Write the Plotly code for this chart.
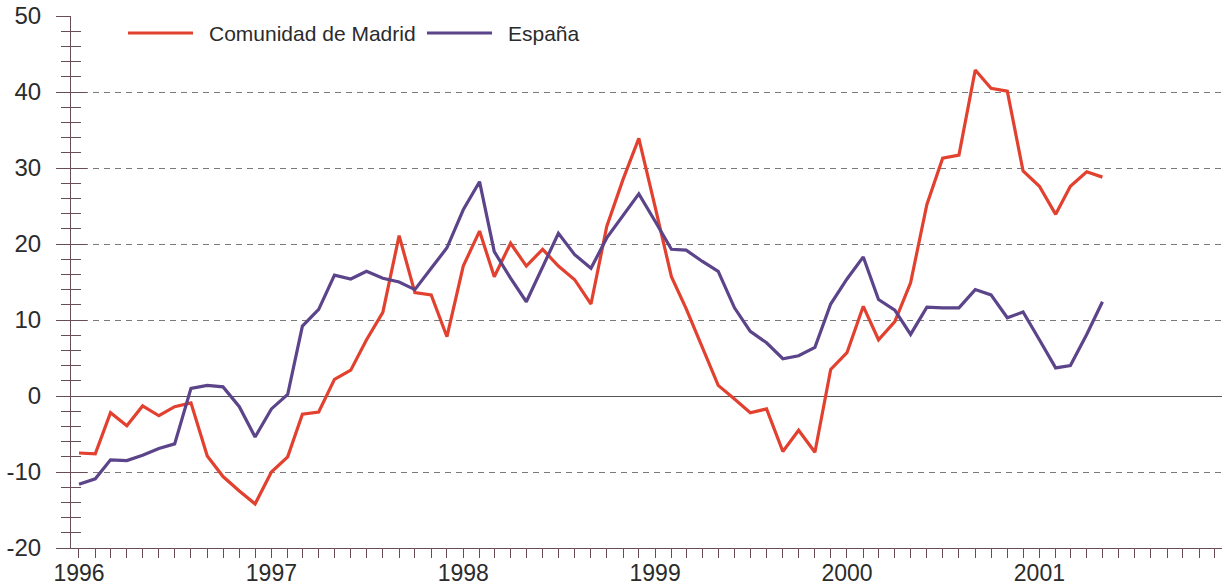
import pandas as pd
import plotly.graph_objects as go

# monthly series, Jan 1996 - May 2001 (tasa de variación interanual, %)
fechas = pd.date_range("1996-01-01", "2001-05-01", freq="MS")

madrid = [-7.5, -7.6, -2.2, -3.9, -1.3, -2.6, -1.4, -0.9, -7.9, -10.6, -12.5, -14.2,
          -10.0, -8.0, -2.4, -2.1, 2.2, 3.4, 7.4, 11.0, 21.1, 13.6, 13.3, 7.8,
          17.1, 21.7, 15.7, 20.1, 17.1, 19.3, 17.1, 15.3, 12.1, 22.3, 28.5, 33.9,
          24.9, 15.7, 11.5, 6.4, 1.4, -0.4, -2.2, -1.7, -7.3, -4.5, -7.4,
          3.5, 5.7, 11.8, 7.4, 9.8, 14.9, 25.2, 31.3, 31.7, 42.9, 40.5, 40.1,
          29.6, 27.6, 23.9, 27.6, 29.5, 28.8]

espana = [-11.6, -10.9, -8.4, -8.5, -7.8, -6.9, -6.3, 1.0, 1.4, 1.2, -1.4, -5.4,
          -1.7, 0.2, 9.2, 11.4, 15.9, 15.4, 16.4, 15.5, 15.0, 14.0, 16.8, 19.5,
          24.5, 28.2, 19.0, 15.5, 12.4, 17.1, 21.4, 18.6, 16.8, 20.8, 23.7, 26.6,
          23.0, 19.3, 19.2, 17.7, 16.4, 11.6, 8.5, 7.0, 4.9, 5.3, 6.4,
          12.1, 15.4, 18.3, 12.7, 11.3, 8.1, 11.7, 11.6, 11.6, 14.0, 13.3, 10.3,
          11.05, 7.4, 3.7, 4.0, 8.1, 12.4]

nombres = ["Comunidad de Madrid", "España"]
colores = ["#e2412f", "#5b4489"]

ticks_mes = pd.date_range("1996-01-01", "2001-12-01", freq="MS")
ticks_txt = [str(d.year) if d.month == 1 else "" for d in ticks_mes]
ticks_y = [-20, -10, 0, 10, 20, 30, 40, 50]
ticks_y_txt = [str(v) for v in ticks_y]  # guion simple, como en el original
grid_y = [-10, 10, 20, 30, 40]

fuente = "Liberation Sans, Arial, sans-serif"
gris = "#2b2b2b"
eje = "#6a4d58"
rango_x = ["1995-12-16 19:00", "2001-12-14 10:00"]

fig = go.Figure()
for serie, nombre, color in zip([madrid, espana], nombres, colores):
    fig.add_trace(go.Scatter(x=fechas, y=serie, name=nombre, mode="lines",
                             line=dict(color=color, width=3.2)))

# empty traces so the overlay axes (inner ticks, dashed grid) get drawn
fig.add_trace(go.Scatter(x=[], y=[], xaxis="x2", yaxis="y2", hoverinfo="skip"))
fig.add_trace(go.Scatter(x=[], y=[], xaxis="x", yaxis="y3", hoverinfo="skip"))

fig.update_layout(
    width=1225, height=588,
    margin=dict(l=71, r=3, t=16, b=40, autoexpand=False),
    paper_bgcolor="white", plot_bgcolor="white",
    showlegend=False,
    font=dict(family=fuente, color=gris, size=24),
    xaxis=dict(range=rango_x, tickmode="array", tickvals=ticks_mes, ticktext=ticks_txt,
               ticks="outside", ticklen=9, tickcolor=eje, tickwidth=1, automargin=False,
               ticklabelstandoff=-5,
               showline=True, linecolor=eje, linewidth=1,
               showgrid=False, zeroline=False, tickfont=dict(size=23)),
    xaxis2=dict(overlaying="x", anchor="y", side="bottom", range=rango_x, automargin=False,
                tickmode="array", tickvals=ticks_mes, showticklabels=False,
                ticks="inside", ticklen=6, tickcolor=eje, tickwidth=1,
                showline=False, showgrid=False, zeroline=False),
    yaxis=dict(range=[-20, 50], tickmode="array", tickvals=ticks_y, ticktext=ticks_y_txt,
               ticks="outside", ticklen=14,
               tickcolor=eje, tickwidth=1, ticklabelstandoff=10, automargin=False,
               minor=dict(tick0=0, dtick=2, ticks="outside", ticklen=9, tickcolor=eje, tickwidth=1),
               showline=True, linecolor=eje, linewidth=1, showgrid=False,
               zeroline=True, zerolinecolor="#555555", zerolinewidth=1.2,
               tickfont=dict(size=24)),
    yaxis2=dict(overlaying="y", anchor="x", side="left", range=[-20, 50], tick0=0, dtick=10,
                ticks="inside", ticklen=16, tickcolor=eje, tickwidth=1, showticklabels=False,
                minor=dict(dtick=2, ticks="inside", ticklen=10, tickcolor=eje, tickwidth=1),
                showline=False, showgrid=False, zeroline=False, automargin=False),
    yaxis3=dict(overlaying="y", anchor="x", side="left", range=[-20, 50], automargin=False,
                tickmode="array", tickvals=grid_y, showticklabels=False, ticks="",
                showgrid=True, gridcolor="#7a7a7a", gridwidth=1.2, griddash="6px,5px",
                showline=False, zeroline=False),
)

# leyenda dibujada a mano (muestra de línea + texto)
leyenda_x = [(0.0495, 0.106, 0.1182), (0.3093, 0.3658, 0.3779)]
for (x0, x1, xt), nombre, color in zip(leyenda_x, nombres, colores):
    fig.add_shape(type="line", xref="paper", yref="paper", x0=x0, x1=x1, y0=0.968, y1=0.968,
                  line=dict(color=color, width=3.2))
    fig.add_annotation(xref="paper", yref="paper", x=xt, y=0.968, text=nombre,
                       showarrow=False, xanchor="left", yanchor="middle",
                       font=dict(size=21, color=gris, family=fuente))

# quitar el margen por defecto del <body> para que la figura ocupe la ventana
fig.write_html("out.html", config={"displayModeBar": False},
               post_script="document.body.style.margin='0';")
